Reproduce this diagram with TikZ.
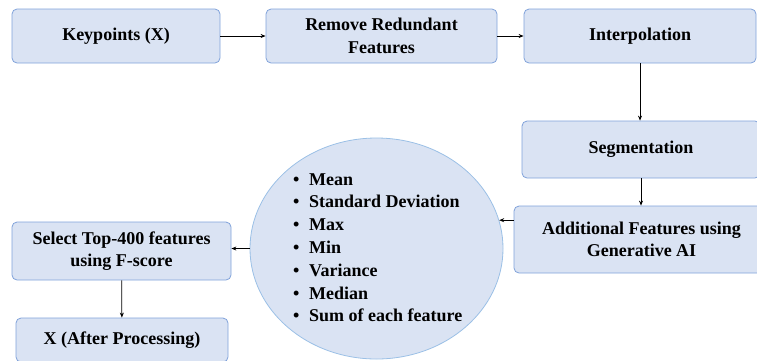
\documentclass[tikz,border=0pt]{standalone}
\usepackage{fontspec}
\setmainfont{Liberation Serif}
\usetikzlibrary{arrows.meta,shapes.geometric}

\definecolor{boxfill}{RGB}{218,227,243}
\definecolor{boxline}{RGB}{128,162,218}
\definecolor{ovalline}{RGB}{155,192,230}

\tikzset{
  stepbox/.style={draw=boxline, fill=boxfill, line width=0.8pt,
    rounded corners=5pt, align=center, inner sep=0pt,
    font=\bfseries\fontsize{18}{22.5}\selectfont},
  oval/.style={ellipse, draw=ovalline, fill=boxfill, line width=0.8pt, inner sep=0pt},
  item/.style={anchor=base west, inner sep=0pt,
    font=\bfseries\fontsize{18}{22.5}\selectfont},
  arr/.style={-{Stealth[length=5pt,width=4pt]}, line width=0.8pt, black}
}

\begin{document}
\begin{tikzpicture}[x=1pt, y=-1pt]
  \useasboundingbox (0,0) rectangle (757,360);

  % processing steps
  \node[stepbox, minimum width=208, minimum height=54] (kp)   at (116,36)    {Keypoints (X)};
  \node[stepbox, minimum width=231, minimum height=54] (rrf)  at (381.5,36)  {Remove Redundant\\Features};
  \node[stepbox, minimum width=232, minimum height=54] (intp) at (640,36)    {Interpolation};
  \node[stepbox, minimum width=238, minimum height=57] (seg)  at (641,149.5) {Segmentation};
  \node[stepbox, minimum width=255, minimum height=67] (add)  at (641.5,239.5) {Additional Features using\\Generative AI};
  \node[stepbox, minimum width=219, minimum height=58] (sel)  at (121.5,251) {Select Top-400 features\\using F-score};
  \node[stepbox, minimum width=212, minimum height=44] (xout) at (122,340)   {X (After Processing)};

  % statistical features
  \node[oval, minimum width=253, minimum height=221] (feat) at (376.5,248.5) {};
  \foreach \t [count=\i] in {Mean, Standard Deviation, Max, Min, Variance, Median, Sum of each feature}
    \node[item] (feat\i) at (293,{185+22.8*(\i-1)}) {\makebox[16pt][l]{•}\t};

  % flow
  \draw[arr] (kp) -- (rrf);
  \draw[arr] (rrf) -- (intp);
  \draw[arr] (intp.south) -- (intp.south |- seg.north);
  \draw[arr] (seg.south) -- (seg.south |- add.north);
  \draw[arr] (add.west |- feat.13) -- (feat.13);
  \draw[arr] (feat.west) -- (sel.east |- feat.west);
  \draw[arr] (sel) -- (xout);
\end{tikzpicture}
\end{document}
